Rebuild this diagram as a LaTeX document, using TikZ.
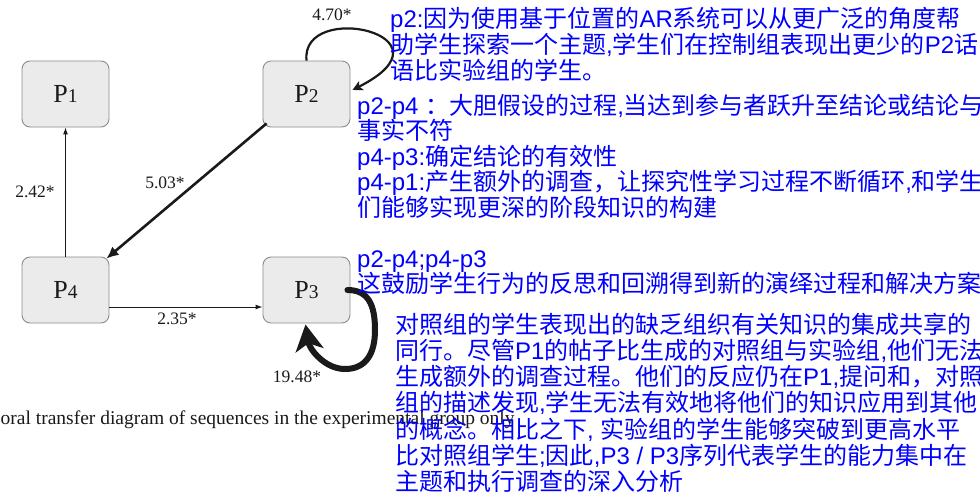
\documentclass[tikz,border=0pt]{standalone}
\usepackage{fontspec}
\setmainfont{Liberation Serif}
\newfontfamily\cjkfont{Noto Sans CJK SC}
\newfontfamily\latfont{Liberation Sans}
\usetikzlibrary{arrows.meta,calc}
\newcommand\engl[1]{{\latfont #1}}
\definecolor{boxfill}{HTML}{EBEBEB}
\definecolor{boxdraw}{HTML}{8C8C8C}
\definecolor{txtblue}{HTML}{0000FF}
\definecolor{ink}{HTML}{1A1A1A}
\begin{document}
\begin{tikzpicture}[x=1pt,y=-1pt,
  pbox/.style={draw=boxdraw, fill=boxfill, rounded corners=8pt, minimum width=87pt,
    minimum height=66pt, line width=0.9pt, inner sep=0pt,
    font=\fontsize{26}{26}\selectfont, text=ink},
  elabel/.style={font=\fontsize{17.5}{18}\selectfont, text=ink, inner sep=0pt},
  bline/.style={anchor=base west, inner sep=0pt, text=txtblue,
    font=\cjkfont\fontsize{24}{26}\selectfont},
  conn/.style={draw=ink, line width=1pt, -{Latex[length=7pt,width=5pt]}},
  boldconn/.style={draw=ink, line width=2.6pt, -{Latex[length=12pt,width=11pt]}},
  loopA/.style={draw=ink, line width=2.2pt, -{Stealth[length=10pt,width=10pt,inset=2.5pt]}},
  loopB/.style={draw=ink, line width=6pt, line cap=round, -{Stealth[length=26pt,width=28pt,inset=7pt]}},
]
\fill[white] (0,0) rectangle (980,496);
\useasboundingbox (0,0) rectangle (980,496);

% boxes
\node[pbox] (P1) at (65.5,94) {P\fontsize{19.5}{19.5}\selectfont 1};
\node[pbox] (P2) at (306.5,94) {P\fontsize{19.5}{19.5}\selectfont 2};
\node[pbox] (P4) at (65.5,290) {P\fontsize{19.5}{19.5}\selectfont 4};
\node[pbox] (P3) at (306.5,290) {P\fontsize{19.5}{19.5}\selectfont 3};

% connectors
\draw[conn] (P4.north) -- (P1.south);
\draw[conn] ([yshift=-17pt]P4.east) -- ([yshift=-17pt]P3.west);
\draw[boldconn] ([xshift=4pt,yshift=4pt]P2.south west) -- ([xshift=-3pt,yshift=-2pt]P4.north east);
\draw[loopA] (P2.north) .. controls +(-6,-61) and +(109,-55) .. ([xshift=2pt,yshift=4pt]P2.east);
\draw[loopB] ([xshift=-3pt]P3.east) .. controls +(21,0) and +(0,-25) .. (375,330)
   .. controls +(0,25) and +(20,0) .. (345,369)
   .. controls +(-20,0) and +(4,25) .. ([xshift=-1pt,yshift=-1pt]P3.south);

% edge labels
\node[elabel] (l470) at (332,15) {4.70*};
\node[elabel] (l503) at (165,183) {5.03*};
\node[elabel] (l242) at (35,192) {2.42*};
\node[elabel] (l235) at (177,319) {2.35*};
\node[elabel] (l1948) at (297,377) {19.48*};

% caption
\node[anchor=base west, inner sep=0pt, font=\fontsize{19.5}{20}\selectfont, text=ink] (cap)
  at (0.5,424) {oral transfer diagram of sequences in the experimental group only};

% blue annotations
\node[bline] (a1) at (390,27) {\engl{p2:}因为使用基于位置的\engl{AR}系统可以从更广泛的角度帮};
\node[bline] (a2) at (390,53) {助学生探索一个主题\engl{,}学生们在控制组表现出更少的\engl{P2}话};
\node[bline] (a3) at (390,79) {语比实验组的学生。};

\node[bline] (b1) at (357,114) {\engl{p2-p4 }：大胆假设的过程\engl{,}当达到参与者跃升至结论或结论与};
\node[bline] (b2) at (357,139.5) {事实不符};
\node[bline] (b3) at (357,165) {\engl{p4-p3:}确定结论的有效性};
\node[bline] (b4) at (357,190.5) {\engl{p4-p1:}产生额外的调查，让探究性学习过程不断循环\engl{,}和学生};
\node[bline] (b5) at (357,216) {们能够实现更深的阶段知识的构建};

\node[bline] (c1) at (357,267) {\engl{p2-p4;p4-p3}};
\node[bline] (c2) at (357,292) {这鼓励学生行为的反思和回溯得到新的演绎过程和解决方案};

\node[bline] (d1) at (395,333) {对照组的学生表现出的缺乏组织有关知识的集成共享的};
\node[bline] (d2) at (395,359.3) {同行。尽管\engl{P1}的帖子比生成的对照组与实验组\engl{,}他们无法};
\node[bline] (d3) at (395,385.6) {生成额外的调查过程。他们的反应仍在\engl{P1,}提问和，对照};
\node[bline] (d4) at (395,411.9) {组的描述发现\engl{,}学生无法有效地将他们的知识应用到其他};
\node[bline] (d5) at (395,438.2) {的概念。相比之下\engl{, }实验组的学生能够突破到更高水平};
\node[bline] (d6) at (395,464.5) {比对照组学生\engl{;}因此\engl{,P3 / P3}序列代表学生的能力集中在};
\node[bline] (d7) at (395,490.8) {主题和执行调查的深入分析};
\end{tikzpicture}
\end{document}
